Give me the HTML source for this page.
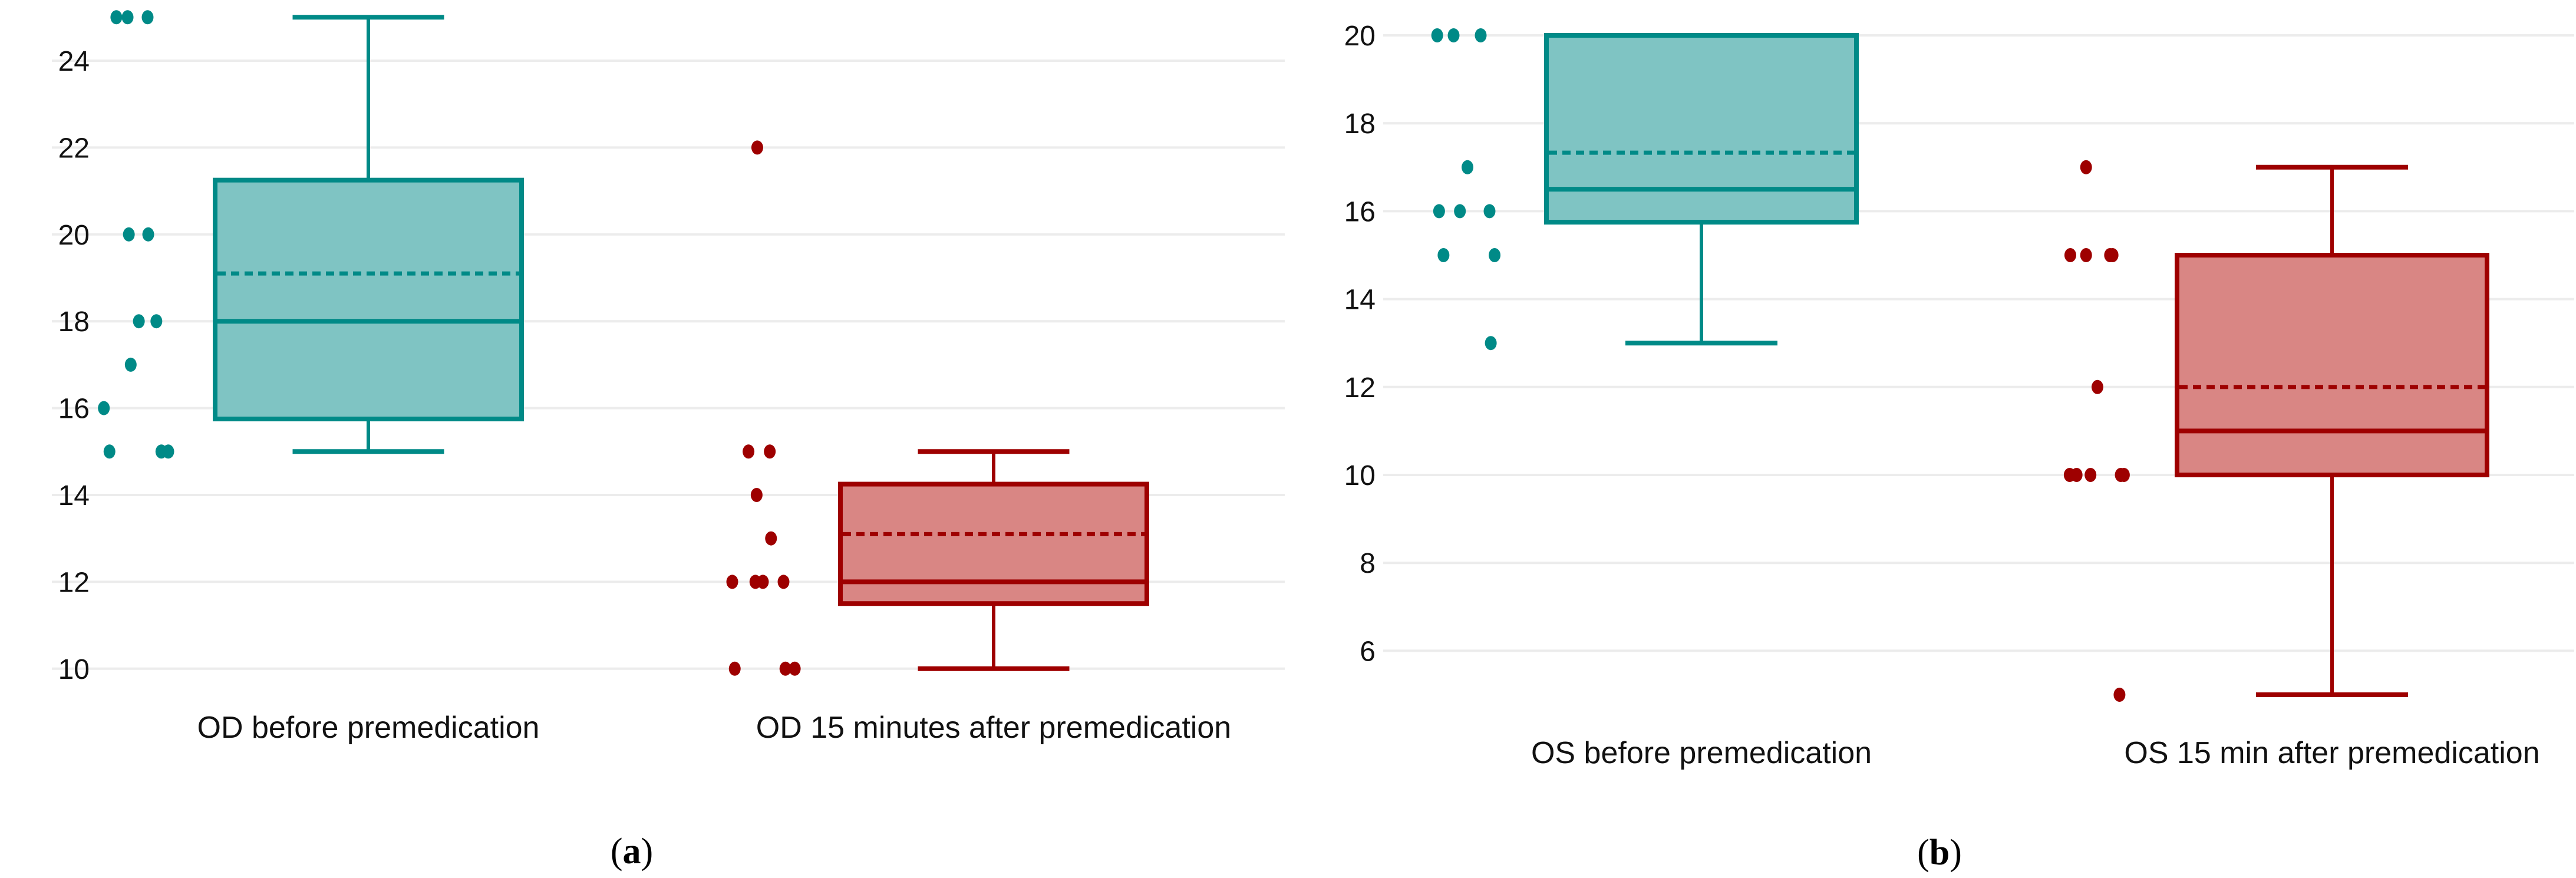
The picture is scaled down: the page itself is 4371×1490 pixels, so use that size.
<!DOCTYPE html>
<html><head><meta charset="utf-8"><style>
html,body{margin:0;padding:0;background:#fff;}
svg{display:block;}
text{font-family:"Liberation Sans",sans-serif;}
</style></head><body>
<svg id="chart" width="4371" height="1490" viewBox="0 0 4371 1490" xmlns="http://www.w3.org/2000/svg">
<g id="pa"></g>
<g id="pb"></g>
<text x="1072" y="1465" font-size="62" text-anchor="middle" style="font-family:'Liberation Serif',serif">(<tspan font-weight="bold">a</tspan>)</text>
<text x="3291" y="1467" font-size="62" text-anchor="middle" style="font-family:'Liberation Serif',serif">(<tspan font-weight="bold">b</tspan>)</text>
</svg>
<script>
// Panel A data
const aCategories = ["OD before premedication", "OD 15 minutes after premedication"];
const aTicks = [10,12,14,16,18,20,22,24];
const aQ1 = [15.75, 11.5];
const aQ3 = [21.25, 14.25];
const aMedian = [18, 12];
const aMean = [19.1, 13.1];
const aWhiskLo = [15, 10];
const aWhiskHi = [25, 15];
const aPoints0 = [25,25,25,20,20,18,18,17,16,15,15,15];
const aJitter0 = [-0.403,-0.385,-0.353,-0.383,-0.352,-0.367,-0.339,-0.380,-0.423,-0.414,-0.331,-0.320];
const aPoints1 = [22,15,15,14,13,12,12,12,12,10,10,10];
const aJitter1 = [-0.378,-0.392,-0.358,-0.379,-0.356,-0.418,-0.381,-0.369,-0.336,-0.414,-0.333,-0.318];
// Panel B data
const bCategories = ["OS before premedication", "OS 15 min after premedication"];
const bTicks = [6,8,10,12,14,16,18,20];
const bQ1 = [15.75, 10];
const bQ3 = [20, 15];
const bMedian = [16.5, 11];
const bMean = [17.33, 12];
const bWhiskLo = [13, 5];
const bWhiskHi = [20, 17];
const bPoints0 = [20,20,20,17,16,16,16,15,15,13];
const bJitter0 = [-0.419,-0.393,-0.350,-0.371,-0.416,-0.383,-0.336,-0.409,-0.328,-0.334];
const bPoints1 = [17,15,15,15,15,12,10,10,10,10,10,5];
const bJitter1 = [-0.390,-0.415,-0.390,-0.352,-0.348,-0.372,-0.416,-0.405,-0.383,-0.335,-0.330,-0.337];

const NS="http://www.w3.org/2000/svg";
const colors=[{s:"#008a87",f:"#7fc4c3"},{s:"#9e0000",f:"#d98684"}];
function mk(p,tag,at){const e=document.createElementNS(NS,tag);for(const k in at)e.setAttribute(k,at[k]);p.appendChild(e);return e;}

function drawPanel(g,cfg){
  const y=v=>cfg.y0+(v-cfg.v0)*cfg.k;
  const x=i=>cfg.c0+i*(cfg.c1-cfg.c0);
  const bw=cfg.bw, cw=cfg.cw;
  cfg.ticks.forEach(t=>{
    const l=mk(g,"line",{x1:cfg.gx0,x2:cfg.gx1,y1:y(t),y2:y(t),stroke:"#ececec","stroke-width":4});
    
    
    const tx=mk(g,"text",{x:cfg.tx,y:y(t)+17,"font-size":48,"text-anchor":"end",fill:"#111"});
    tx.textContent=t;
    
    
  });
  cfg.cats.forEach((c,i)=>{
    const col=colors[i], cx=x(i);
    const grp=mk(g,"g",{});
    
    
    mk(grp,"line",{x1:cx,x2:cx,y1:y(cfg.hi[i]),y2:y(cfg.q3[i]),stroke:col.s,"stroke-width":6});
    mk(grp,"line",{x1:cx,x2:cx,y1:y(cfg.q1[i]),y2:y(cfg.lo[i]),stroke:col.s,"stroke-width":6});
    const c1=mk(grp,"line",{x1:cx-cw/2,x2:cx+cw/2,y1:y(cfg.hi[i]),y2:y(cfg.hi[i]),stroke:col.s,"stroke-width":8});
    
    
    const c2=mk(grp,"line",{x1:cx-cw/2,x2:cx+cw/2,y1:y(cfg.lo[i]),y2:y(cfg.lo[i]),stroke:col.s,"stroke-width":8});
    
    
    const r=mk(grp,"rect",{x:cx-bw/2,y:y(cfg.q3[i]),width:bw,height:y(cfg.q1[i])-y(cfg.q3[i]),fill:col.f,stroke:col.s,"stroke-width":8});
    
    
    const m=mk(grp,"line",{x1:cx-bw/2,x2:cx+bw/2,y1:y(cfg.med[i]),y2:y(cfg.med[i]),stroke:col.s,"stroke-width":8});
    
    
    const mn=mk(grp,"line",{x1:cx-bw/2+4,x2:cx+bw/2-4,y1:y(cfg.mean[i]),y2:y(cfg.mean[i]),stroke:col.s,"stroke-width":7,"stroke-dasharray":"14 9"});
    
    
    cfg.pts[i].forEach((v,j)=>{
      const d=mk(g,"ellipse",{cx:x(i+cfg.jit[i][j]),cy:y(v),rx:10,ry:12,fill:col.s});
      
      
    });
    const lb=mk(g,"text",{x:cx,y:cfg.ly,"font-size":52,"text-anchor":"middle",fill:"#111"});
    lb.textContent=c;
    
    
  });
}
drawPanel(document.getElementById('pa'),{cats:aCategories,ticks:aTicks,q1:aQ1,q3:aQ3,med:aMedian,mean:aMean,lo:aWhiskLo,hi:aWhiskHi,
  pts:[aPoints0,aPoints1],jit:[aJitter0,aJitter1],v0:24,y0:103,k:-73.7,c0:625,c1:1686,bw:520,cw:257,gx0:88,gx1:2180,tx:152,ly:1252});
drawPanel(document.getElementById('pb'),{cats:bCategories,ticks:bTicks,q1:bQ1,q3:bQ3,med:bMedian,mean:bMean,lo:bWhiskLo,hi:bWhiskHi,
  pts:[bPoints0,bPoints1],jit:[bJitter0,bJitter1],v0:20,y0:60,k:-74.6,c0:2887,c1:3957,bw:526,cw:258,gx0:2347,gx1:4368,tx:2334,ly:1295});
</script>
</body></html>
